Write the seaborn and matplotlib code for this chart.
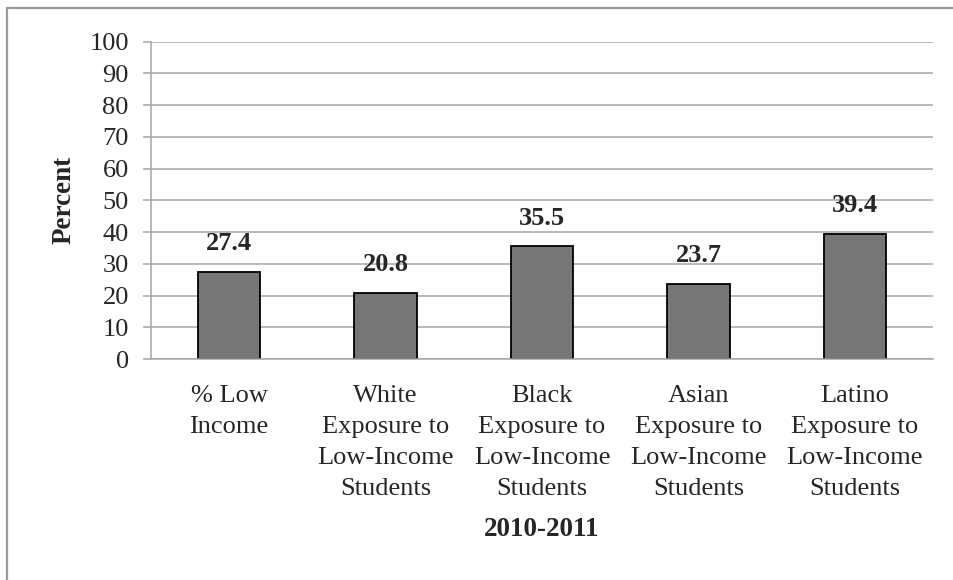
import matplotlib
matplotlib.use("Agg")
import matplotlib.pyplot as plt
import seaborn as sns
import pandas as pd
from matplotlib.patches import Rectangle

categories = ["% Low\nIncome",
              "White\nExposure to\nLow-Income\nStudents",
              "Black\nExposure to\nLow-Income\nStudents",
              "Asian\nExposure to\nLow-Income\nStudents",
              "Latino\nExposure to\nLow-Income\nStudents"]
values = [27.4, 20.8, 35.5, 23.7, 39.4]
y_ticks = [0, 10, 20, 30, 40, 50, 60, 70, 80, 90, 100]

sns.set_theme(style="white")
plt.rcParams["font.family"] = ["Liberation Serif", "DejaVu Serif"]

fig = plt.figure(figsize=(9.54, 5.80), dpi=100)
ax = fig.add_axes([151/954, 1-359/580, (933-151)/954, (359-41.7)/580])

df = pd.DataFrame({"cat": categories, "val": values})
sns.barplot(data=df, x="cat", y="val", ax=ax, color="#767676", saturation=1,
            edgecolor="black", linewidth=1.3, width=0.4)

ax.set_ylim(0, 100)
ax.set_xlim(-0.5, 4.5)
ax.set_yticks(y_ticks)
ax.set_yticklabels([str(v) for v in y_ticks], fontsize=19)
ax.yaxis.grid(True, color="#a6a6a6", linewidth=1.1)
ax.set_axisbelow(True)

ax.set_xticks([i - 0.5 for i in range(6)])
ax.set_xticklabels([])
ax.set_xticks(range(5), minor=True)
ax.set_xticklabels(categories, minor=True, fontsize=19, linespacing=1.52)
ax.tick_params(axis="x", which="major", length=6, width=1.1, color="#a6a6a6", direction="out")
ax.tick_params(axis="x", which="minor", length=0, pad=19)
ax.tick_params(axis="y", length=6, width=1.1, color="#a6a6a6", direction="out", pad=10, left=True)

for s in ["top", "right"]:
    ax.spines[s].set_visible(False)
for s in ["left", "bottom"]:
    ax.spines[s].set_color("#a6a6a6")
    ax.spines[s].set_linewidth(1.1)

for c in ax.containers:
    ax.bar_label(c, labels=[f"{v:.1f}" for v in values], padding=12,
                 fontsize=19, fontweight="bold")

ax.set_xlabel("2010-2011", fontsize=19.5, fontweight="bold", labelpad=12)
ax.set_ylabel("Percent", fontsize=19.5, fontweight="bold", labelpad=9)

fig.add_artist(Rectangle((7.5/954, -0.2), 1.5, 1.2 - 7.5/580, transform=fig.transFigure,
                         fill=False, edgecolor="#9a9a9a", linewidth=1.6))

fig.savefig("out.png", dpi=100)
